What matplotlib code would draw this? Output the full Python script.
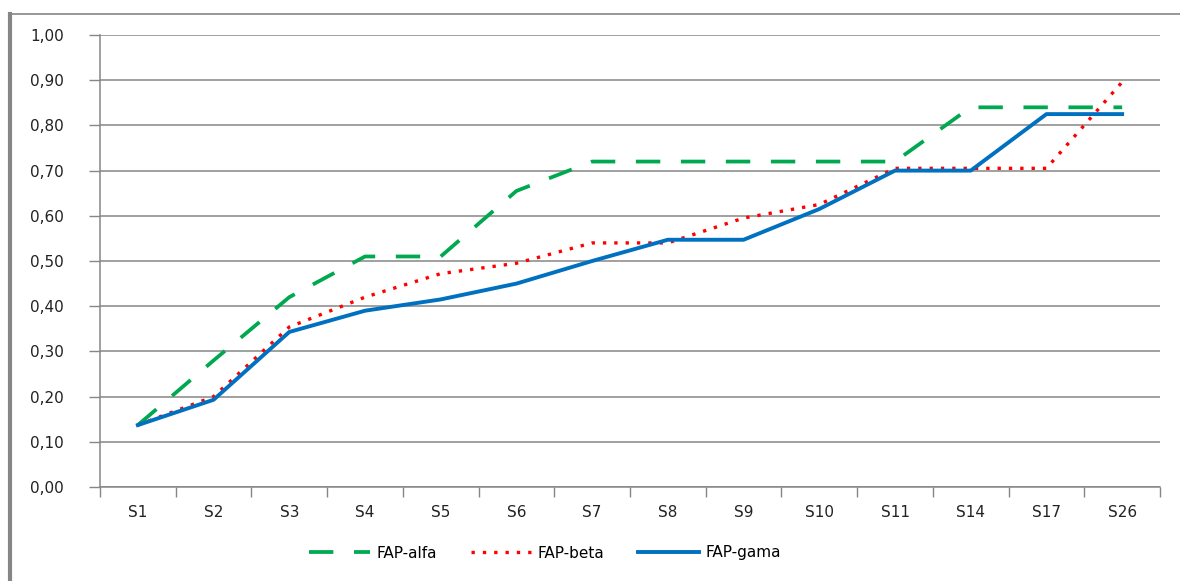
import numpy as np
import matplotlib
matplotlib.use('Agg')
import matplotlib.pyplot as plt
from matplotlib.lines import Line2D

# data
categories = ['S1', 'S2', 'S3', 'S4', 'S5', 'S6', 'S7', 'S8', 'S9', 'S10', 'S11', 'S14', 'S17', 'S26']
fap_alfa = [0.137, 0.28, 0.42, 0.51, 0.51, 0.655, 0.72, 0.72, 0.72, 0.72, 0.72, 0.84, 0.84, 0.84]
fap_beta = [0.137, 0.20, 0.354, 0.42, 0.472, 0.495, 0.54, 0.54, 0.595, 0.625, 0.705, 0.705, 0.705, 0.896]
fap_gama = [0.137, 0.193, 0.343, 0.39, 0.415, 0.45, 0.50, 0.547, 0.547, 0.615, 0.70, 0.70, 0.825, 0.825]
yticks = np.arange(0, 1.01, 0.1)

fig = plt.figure(figsize=(11.8, 5.81), dpi=100)
ax = fig.add_axes([100/1180, 1 - 487/581, 1060/1180, 452/581])

x = np.arange(len(categories))
ax.plot(x, fap_alfa, color='#00a84f', lw=2.7, dashes=(6.5, 5.5), label='FAP-alfa')
ax.plot(x, fap_beta, color='#ff0000', lw=2.4, ls=(0, (1, 2.4)), label='FAP-beta')
ax.plot(x, fap_gama, color='#0070c0', lw=2.8, label='FAP-gama')

ax.set_xlim(-0.5, len(categories) - 0.5)
ax.set_ylim(0, 1.0)
ax.set_yticks(yticks)
ax.set_yticklabels([('%.2f' % v).replace('.', ',') for v in yticks])
ax.set_xticks(x)
ax.set_xticklabels(categories)
ax.set_xticks(np.arange(-0.5, len(categories)), minor=True)
ax.tick_params(axis='x', which='major', length=0, pad=13)
ax.tick_params(axis='x', which='minor', length=7, color='#868686', width=1)
ax.tick_params(axis='y', length=8, color='#868686', width=1, pad=18)
ax.tick_params(labelsize=11, labelcolor='#222222')
ax.grid(axis='y', color='#868686', lw=1.1)
ax.set_axisbelow(True)
for s in ['top', 'right']:
    ax.spines[s].set_visible(False)
for s in ['left', 'bottom']:
    ax.spines[s].set_color('#868686')
    ax.spines[s].set_linewidth(1.1)

fig.legend(loc='center', bbox_to_anchor=(545/1180, 1 - 553/581), ncol=3, frameon=False,
           fontsize=11, handlelength=4, columnspacing=2.2, handletextpad=0.4)

# outer chart border
fig.add_artist(Line2D([10/1180, 10/1180], [0, 1 - 14/581], color='#868686', lw=3, transform=fig.transFigure))
fig.add_artist(Line2D([10/1180, 1], [1 - 14/581, 1 - 14/581], color='#868686', lw=1.2, transform=fig.transFigure))

fig.savefig('out.png', dpi=100)
